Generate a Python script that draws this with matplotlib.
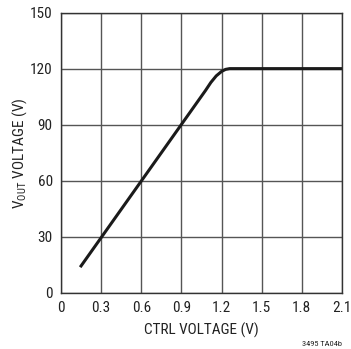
import matplotlib
matplotlib.use("Agg")
import matplotlib.pyplot as plt

ctrl_v = [0.15, 1.08, 1.12, 1.16, 1.20, 1.23, 1.26, 2.1]
vout_v = [14.5, 108.5, 112.8, 116.3, 118.7, 119.8, 120.2, 120.2]
xticks = [0, 0.3, 0.6, 0.9, 1.2, 1.5, 1.8, 2.1]
xticklabels = ["0", "0.3", "0.6", "0.9", "1.2", "1.5", "1.8", "2.1"]
yticks = [0, 30, 60, 90, 120, 150]

fam = 'Roboto Condensed'
plt.rcParams['font.family'] = [fam, 'DejaVu Sans']
plt.rcParams['mathtext.fontset'] = 'custom'
plt.rcParams['mathtext.rm'] = fam

fig = plt.figure(figsize=(3.51, 3.49), dpi=100)
ax = fig.add_axes([61/351, 1-293/349, (342-61)/351, (293-13)/349])
ax.plot(ctrl_v, vout_v, color='#1a1a1a', lw=2.2, solid_joinstyle='round')
ax.set_xlim(0, 2.1)
ax.set_ylim(0, 150)
ax.set_xticks(xticks)
ax.set_xticklabels(xticklabels)
ax.set_yticks(yticks)
ax.grid(True, color='#555555', lw=1.0)
ax.set_axisbelow(True)
ax.tick_params(length=0, labelsize=11, pad=6, colors='#222222')
for s in ax.spines.values():
    s.set_color('#333333')
    s.set_linewidth(1.0)
ax.set_xlabel('CTRL VOLTAGE (V)', fontsize=11, color='#222222', labelpad=5)
ax.set_ylabel(r'V$_{\mathregular{OUT}}$ VOLTAGE (V)', fontsize=11, color='#222222', labelpad=1)
fig.text(342/351, 1-344/349, '3495 TA04b', fontsize=6, ha='right', va='center', color='#222222')
fig.savefig('out.png', dpi=100)
